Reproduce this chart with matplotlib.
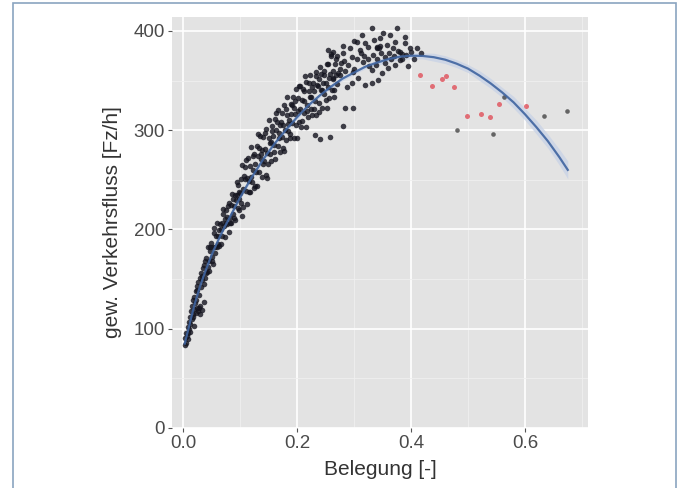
import matplotlib.pyplot as plt
import matplotlib.patches as patches
import numpy as np

# Messpunkte (Belegung, gewichteter Verkehrsfluss)
belegung_schwarz = [
    # 0.00 - 0.04
    0.003, 0.004, 0.005, 0.006, 0.007, 0.008, 0.009, 0.010, 0.011, 0.012, 0.013, 0.014,
    0.015, 0.016, 0.017, 0.018, 0.019, 0.020, 0.021, 0.022, 0.023, 0.024, 0.025, 0.026,
    0.027, 0.028, 0.029, 0.030, 0.031, 0.032, 0.033, 0.034, 0.035, 0.036, 0.037, 0.038,
    0.039, 0.040, 0.023, 0.028, 0.030, 0.018, 0.012, 0.008, 0.025, 0.033, 0.036, 0.020,
    # 0.04 - 0.10
    0.041, 0.042, 0.044, 0.045, 0.046, 0.048, 0.049, 0.050, 0.052, 0.053, 0.054, 0.056,
    0.057, 0.058, 0.060, 0.061, 0.062, 0.064, 0.065, 0.066, 0.068, 0.069, 0.070, 0.072,
    0.073, 0.074, 0.076, 0.077, 0.078, 0.080, 0.081, 0.082, 0.084, 0.085, 0.086, 0.088,
    0.089, 0.090, 0.092, 0.093, 0.094, 0.096, 0.097, 0.098, 0.099,
    0.043, 0.047, 0.051, 0.055, 0.059, 0.063, 0.067, 0.071, 0.075, 0.079, 0.083, 0.087,
    0.091, 0.095, 0.0985,
    # 0.10 - 0.20
    0.101, 0.102, 0.104, 0.105, 0.106, 0.108, 0.109, 0.110, 0.112, 0.113, 0.114, 0.116,
    0.117, 0.118, 0.120, 0.121, 0.122, 0.124, 0.125, 0.126, 0.128, 0.129, 0.130, 0.131,
    0.133, 0.134, 0.135, 0.137, 0.138, 0.139, 0.141, 0.142, 0.143, 0.145, 0.146, 0.147,
    0.149, 0.150, 0.151, 0.153, 0.154, 0.155, 0.157, 0.158, 0.159, 0.161, 0.162, 0.163,
    0.165, 0.166, 0.167, 0.169, 0.170, 0.171, 0.173, 0.174, 0.175, 0.177, 0.178, 0.179,
    0.181, 0.182, 0.183, 0.185, 0.186, 0.187, 0.189, 0.190, 0.191, 0.193, 0.194, 0.195,
    0.197, 0.198, 0.199,
    0.1005, 0.1035, 0.107, 0.1105, 0.115, 0.119, 0.123, 0.127, 0.132, 0.136, 0.140, 0.144,
    0.148, 0.152, 0.156, 0.160, 0.164, 0.168, 0.172, 0.176, 0.180, 0.184, 0.188, 0.192,
    0.196, 0.200,
    # 0.20 - 0.27
    0.201, 0.203, 0.204, 0.206, 0.207, 0.209, 0.210, 0.212, 0.213, 0.215, 0.216, 0.218,
    0.219, 0.221, 0.222, 0.224, 0.225, 0.227, 0.228, 0.230, 0.231, 0.233, 0.234, 0.236,
    0.238, 0.239, 0.241, 0.242, 0.244, 0.245, 0.247, 0.248, 0.250, 0.252, 0.253, 0.255,
    0.257, 0.258, 0.260, 0.262, 0.264, 0.265, 0.267, 0.268, 0.270,
    0.2025, 0.2055, 0.2085, 0.2115, 0.2145, 0.2175, 0.2205, 0.2235, 0.2265, 0.2295, 0.2325,
    0.2355, 0.2385, 0.2415, 0.2445, 0.2475, 0.2505, 0.2535, 0.2565, 0.2595, 0.2625, 0.2655,
    0.2685,
    0.232, 0.258, 0.280, 0.284, 0.298, 0.240,
    # 0.27 - 0.42
    0.331, 0.375, 0.314, 0.346, 0.363, 0.389, 0.305, 0.325, 0.340, 0.358, 0.368, 0.381,
    0.398, 0.410, 0.281, 0.293, 0.263, 0.254,
    0.319, 0.331, 0.342, 0.349, 0.360, 0.372, 0.381, 0.339, 0.331, 0.307, 0.296, 0.288,
    0.298, 0.316, 0.275, 0.263,
    0.275, 0.282, 0.290, 0.297, 0.305, 0.312, 0.318, 0.325, 0.333, 0.340, 0.348, 0.355,
    0.362, 0.370, 0.377, 0.385, 0.392, 0.400, 0.405, 0.395, 0.385, 0.300, 0.285, 0.278,
    0.272, 0.270, 0.280, 0.300, 0.310, 0.320, 0.335, 0.350, 0.372, 0.390, 0.365, 0.355,
    0.345, 0.327, 0.417, 0.341, 0.344,
]
fluss_schwarz = [
    84, 91, 86, 96, 93, 102, 96, 107, 100, 112, 105, 118,
    110, 123, 115, 129, 120, 132, 126, 138, 129, 143, 121, 118,
    147, 134, 151, 123, 142, 156, 119, 149, 161, 145, 164, 151,
    168, 156, 116, 121, 115, 112, 97, 90, 139, 153, 127, 103,
    171, 157, 182, 168, 158, 178, 186, 172, 182, 165, 196, 182,
    176, 193, 206, 185, 193, 183, 205, 200, 207, 193, 216, 203,
    192, 211, 220, 205, 213, 197, 227, 212, 207, 225, 236, 216,
    224, 212, 235, 230, 235, 222, 245, 231, 220,
    162, 182, 168, 201, 182, 199, 185, 221, 206, 224, 207, 231,
    210, 248, 238,
    251, 227, 265, 241, 223, 251, 263, 239, 252, 226, 272, 249,
    238, 264, 283, 248, 260, 242, 276, 266, 258, 284, 244, 274,
    282, 258, 294, 271, 253, 280, 293, 269, 281, 255, 301, 277,
    266, 292, 310, 276, 288, 269, 304, 294, 285, 311, 271, 300,
    308, 284, 320, 297, 278, 305, 317, 293, 305, 279, 325, 300,
    290, 315, 333, 299, 310, 292, 326, 316, 307, 333, 292, 322,
    329, 305, 341,
    237, 214, 254, 270, 238, 253, 274, 244, 296, 276, 266, 297,
    252, 287, 299, 278, 317, 292, 308, 282, 321, 306, 296, 325,
    316, 292,
    332, 308, 345, 321, 303, 330, 341, 317, 329, 303, 349, 325,
    313, 339, 356, 321, 333, 315, 348, 339, 329, 355, 315, 345,
    352, 327, 364, 340, 322, 348, 360, 336, 348, 322, 367, 343,
    332, 357, 375, 340, 352, 333, 367, 356, 347,
    319, 344, 309, 339, 355, 319, 348, 333, 343, 321, 359,
    346, 318, 357, 340, 356, 330, 367, 353, 377, 360, 340,
    372,
    295, 293, 304, 322, 322, 291,
    403, 403, 396, 393, 396, 394, 389, 384, 383, 386, 383, 379,
    383, 383, 378, 383, 379, 381,
    346, 348, 351, 358, 363, 366, 371, 366, 361, 353, 348, 343,
    359, 369, 356, 353,
    362, 370, 366, 374, 372, 378, 375, 372, 376, 372, 378, 374,
    378, 375, 380, 377, 376, 379, 372, 365, 372, 362, 360, 368,
    358, 375, 385, 390, 381, 388, 391, 398, 389, 388, 372, 368,
    385, 365, 378, 384, 383,
]

# einzelne graue Punkte rechts vom Maximum
belegung_grau = [0.481, 0.544, 0.563, 0.633, 0.674]
fluss_grau = [300, 296, 333, 314, 319]

# rote Punkte (Stau)
belegung_rot = [0.416, 0.437, 0.454, 0.461, 0.475, 0.498, 0.523, 0.539, 0.554, 0.602]
fluss_rot = [356, 344, 352, 355, 343, 314, 316, 313, 326, 324]

# Ausgleichskurve mit Vertrauensband
kurve_x = [0.003, 0.01, 0.02, 0.03, 0.04, 0.05, 0.06, 0.07, 0.08, 0.09, 0.10, 0.12,
           0.14, 0.16, 0.18, 0.20, 0.22, 0.24, 0.26, 0.28, 0.30, 0.32, 0.34, 0.36,
           0.38, 0.40, 0.42, 0.44, 0.46, 0.48, 0.50, 0.52, 0.54, 0.56, 0.58, 0.60,
           0.62, 0.64, 0.66, 0.675]
kurve_y = [85, 101, 124, 143, 159, 174, 187, 199, 210, 221, 232, 252,
           270, 286, 300, 313, 325, 335, 344, 352, 358, 364, 368, 371.5,
           374, 375, 374.8, 373.5, 371, 367, 362, 355, 347, 338, 328, 316,
           303, 289, 273, 260]
kurve_band = [6, 5, 4, 3, 3, 3, 2, 2, 2, 2, 2, 2,
              2, 2, 2, 2, 2, 2, 2, 2, 2, 2, 3, 3,
              3, 3, 3, 4, 4, 4, 4, 5, 5, 5, 6, 6,
              7, 7, 8, 9]

plt.rcParams['font.family'] = ['Liberation Sans', 'DejaVu Sans']

fig = plt.figure(figsize=(6.82, 4.88), dpi=100)
ax = fig.add_axes([172/682, 1 - 428/488, (588-172)/682, (428-17)/488])
ax.set_facecolor('#e3e3e3')

ax.set_xlim(-0.0193, 0.7105)
ax.set_ylim(0, 414)
ax.set_xticks([0.0, 0.2, 0.4, 0.6])
ax.set_xticklabels(['0.0', '0.2', '0.4', '0.6'])
ax.set_yticks([0, 100, 200, 300, 400])
ax.set_xticks([0.1, 0.3, 0.5, 0.7], minor=True)
ax.set_yticks([50, 150, 250, 350], minor=True)
ax.grid(which='major', color='white', lw=1.2)
ax.grid(which='minor', color='#f0f0f0', lw=0.6)
ax.set_axisbelow(True)
for s in ax.spines.values():
    s.set_visible(False)
ax.tick_params(which='major', length=3, color='#555555', labelsize=13.5,
               labelcolor='#4a4a4a', pad=2)
ax.tick_params(which='minor', length=0)

kx = np.array(kurve_x)
ky = np.array(kurve_y)
kb = np.array(kurve_band)
ax.fill_between(kx, ky - kb, ky + kb, color='#c9d3e6', alpha=0.8, lw=0, zorder=2)

ax.scatter(belegung_schwarz, fluss_schwarz, s=16, color='#14141f', alpha=0.8, lw=0, zorder=3)
ax.scatter(belegung_grau, fluss_grau, s=11, color='#3a3a3a', alpha=0.75, lw=0, zorder=3)
ax.scatter(belegung_rot, fluss_rot, s=13, color='#e0505a', alpha=0.8, lw=0, zorder=3)
ax.plot(kx, ky, color='#3f64a0', lw=1.6, alpha=0.9, zorder=4)

ax.set_xlabel('Belegung [-]', fontsize=15, color='#333333', labelpad=6)
ax.set_ylabel('gew. Verkehrsfluss [Fz/h]', fontsize=15, color='#333333', labelpad=8)

# äußerer Rahmen
fig.patches.append(patches.Rectangle((13/682, -0.1), (676-13)/682, 1.1 - 3.5/488,
                                     transform=fig.transFigure, fill=False,
                                     edgecolor='#8aa4c0', lw=1.2))

fig.savefig('out.png', dpi=100)
